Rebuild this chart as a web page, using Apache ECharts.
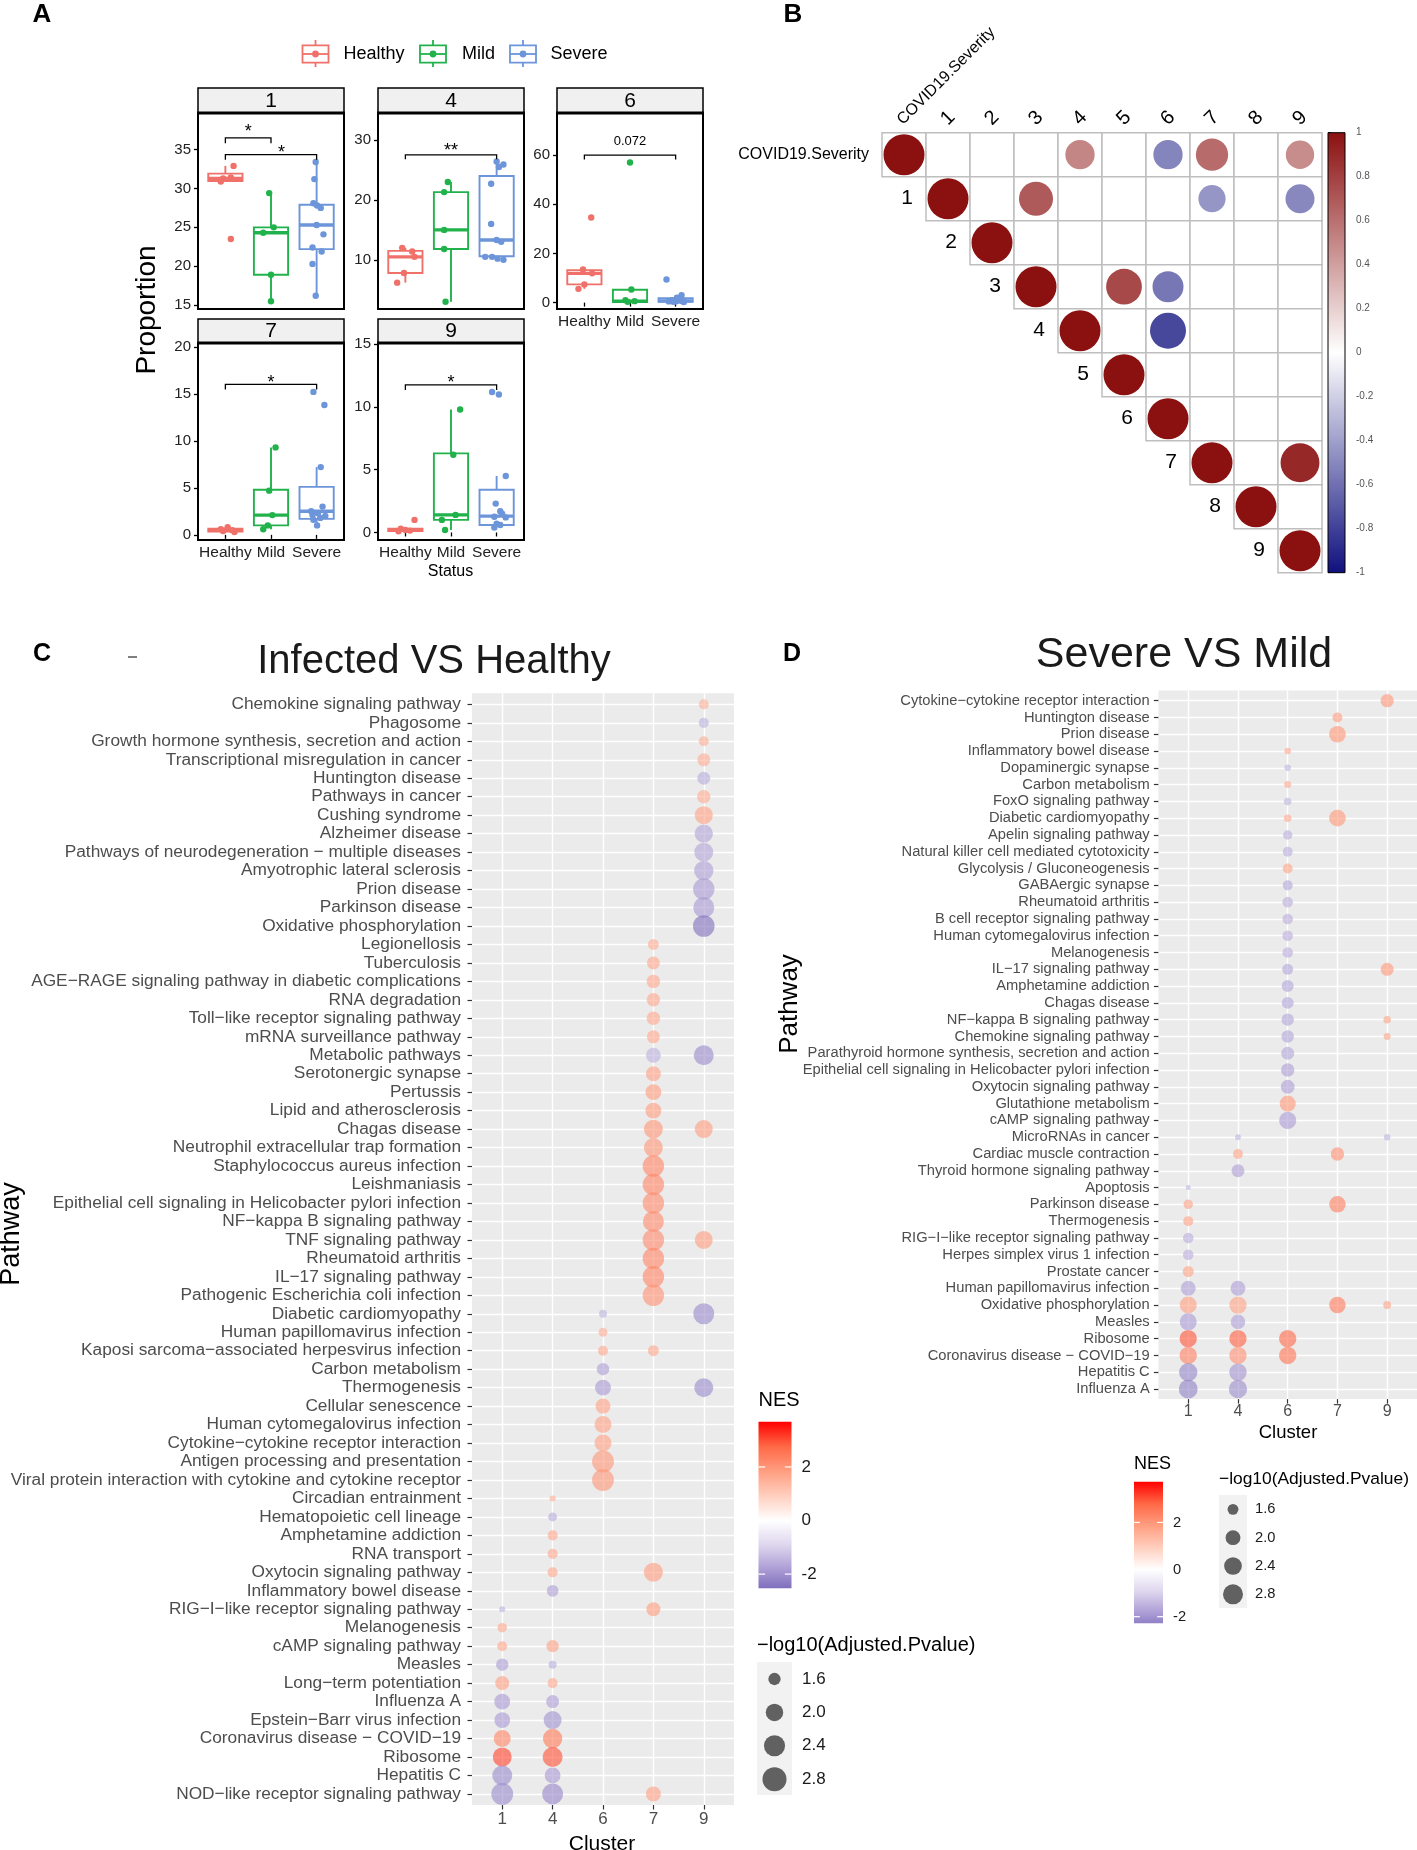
<!DOCTYPE html>
<html><head><meta charset="utf-8">
<script src="https://cdn.jsdelivr.net/npm/echarts@6/dist/echarts.min.js"></script>
<style>html,body{margin:0;padding:0;background:#fff}#c{width:1417px;height:1850px}</style>
</head><body><div id="c"></div>
<script>
const FONT = '"Liberation Sans", Arial, Helvetica, sans-serif';

// ---------------- Panel A data ----------------
const groups = ['Healthy', 'Mild', 'Severe'];
const facetNames = ['1', '4', '6', '7', '9'];
// box stats: [min, q1, median, q3, max] for Healthy, Mild, Severe
const box1 = [[30.9, 30.95, 31.3, 31.9, 32.9], [15.5, 18.9, 24.3, 25.0, 29.4], [16.2, 22.2, 25.3, 27.9, 33.4]];
const box4 = [[6.2, 7.8, 10.5, 11.5, 12.0], [3.0, 11.8, 15.0, 21.3, 23.0], [10.0, 10.6, 13.3, 24.0, 26.4]];
const box6 = [[5.6, 7.4, 11.9, 13.2, 13.5], [0.1, 0.2, 0.6, 5.2, 5.3], [0.1, 0.3, 0.7, 1.8, 3.0]];
const box7 = [[0.3, 0.35, 0.5, 0.65, 0.8], [0.6, 1.0, 2.1, 4.8, 9.3], [1.0, 1.7, 2.5, 5.1, 7.2]];
const box9 = [[0.1, 0.12, 0.2, 0.3, 0.35], [0.2, 1.0, 1.4, 6.3, 9.8], [0.4, 0.6, 1.3, 3.4, 4.5]];
// jittered points: [jitter offset, value]
const pts1 = [
  [[0.18, 32.9], [0.12, 31.4], [-0.05, 31.3], [-0.1, 30.9], [0.12, 23.5]],
  [[-0.04, 29.4], [0.06, 25.0], [-0.17, 24.3], [0, 18.9], [0, 15.5]],
  [[-0.02, 33.4], [-0.05, 31.2], [-0.07, 28.1], [0.01, 27.8], [0.09, 27.5], [0, 25.3], [0.15, 24.1], [-0.09, 22.4], [0.11, 21.9], [-0.09, 20.3], [-0.02, 16.2]]
];
const pts4 = [
  [[-0.07, 12.0], [0.15, 11.4], [0.2, 10.5], [-0.03, 7.8], [-0.18, 6.2]],
  [[-0.07, 23.0], [-0.15, 21.3], [-0.15, 15.0], [-0.15, 11.8], [-0.12, 3.0]],
  [[0, 26.4], [0.15, 25.9], [0.05, 25.5], [-0.12, 22.7], [-0.12, 16.0], [0, 13.3], [0.1, 13.0], [-0.25, 10.5], [-0.1, 10.5], [0.02, 10.2], [0.15, 10.0]]
];
const pts6 = [
  [[0.15, 34.6], [-0.03, 13.5], [0.17, 11.9], [0, 7.4], [-0.13, 5.6]],
  [[0, 57.0], [0.03, 5.3], [-0.1, 1.0], [0.1, 0.6], [-0.05, 0.3]],
  [[-0.2, 9.4], [0.13, 3.0], [0.03, 2.0], [0.1, 1.5], [-0.08, 1.0], [0.05, 0.8], [0.15, 0.6], [-0.15, 0.5], [0, 0.4], [-0.05, 0.3], [0.18, 0.2]]
];
const pts7 = [
  [[0.05, 0.8], [-0.1, 0.6], [0.15, 0.5], [-0.05, 0.4], [0.2, 0.3]],
  [[0.1, 9.3], [-0.04, 4.7], [0.03, 2.1], [-0.07, 1.0], [-0.17, 0.6]],
  [[-0.07, 15.2], [0.17, 13.8], [0.09, 7.2], [0.13, 3.0], [-0.12, 2.5], [0.03, 2.3], [-0.09, 2.1], [0.19, 2.0], [0.08, 1.8], [-0.07, 1.6], [0.01, 1.0]]
];
const pts9 = [
  [[0.2, 1.0], [-0.1, 0.3], [0, 0.2], [0.1, 0.15], [-0.15, 0.1]],
  [[0.2, 9.8], [0.05, 6.2], [0.1, 1.4], [-0.2, 1.0], [-0.13, 0.2]],
  [[-0.1, 11.2], [0.05, 11.0], [0.2, 4.5], [-0.02, 2.3], [0.08, 1.7], [0.12, 1.5], [-0.05, 1.25], [0.2, 1.2], [0.08, 0.6], [0, 0.7], [-0.05, 0.4]]
];
// significance brackets: [from, to, line value, tip value, label x, label y, label]
const br1 = [[1, 2, 36.5, 35.8, 1.5, 37.26, '*'], [1, 3, 34.36, 33.7, 2.23, 34.49, '*']];
const br4 = [[1, 3, 27.5, 26.8, 2, 28.2, '**']];
const br6 = [[1, 3, 60, 58.2, 2, 65.6, '0.072']];
const br7 = [[1, 3, 16.0, 15.46, 2, 16.17, '*']];
const br9 = [[1, 3, 11.76, 11.36, 2, 11.9, '*']];
const yTicks1 = [15, 20, 25, 30, 35];
const yTicks4 = [10, 20, 30];
const yTicks6 = [0, 20, 40, 60];
const yTicks7 = [0, 5, 10, 15, 20];
const yTicks9 = [0, 5, 10, 15];

// ---------------- Panel B data ----------------
const namesB = ['COVID19.Severity', '1', '2', '3', '4', '5', '6', '7', '8', '9'];
// [column, row, correlation]
const corrB = [
  [0, 0, 1], [4, 0, 0.51], [6, 0, -0.51], [7, 0, 0.62], [9, 0, 0.48],
  [1, 1, 1], [3, 1, 0.69], [7, 1, -0.44], [9, 1, -0.5],
  [2, 2, 1],
  [3, 3, 1], [5, 3, 0.76], [6, 3, -0.57],
  [4, 4, 1], [6, 4, -0.77],
  [5, 5, 1], [6, 6, 1],
  [7, 7, 1], [9, 7, 0.9],
  [8, 8, 1], [9, 9, 1]
];

// ---------------- Panel C data ----------------
const clustersC = ['1', '4', '6', '7', '9'];
const pathwaysC = [
  'Chemokine signaling pathway', 'Phagosome', 'Growth hormone synthesis, secretion and action',
  'Transcriptional misregulation in cancer', 'Huntington disease', 'Pathways in cancer', 'Cushing syndrome',
  'Alzheimer disease', 'Pathways of neurodegeneration − multiple diseases', 'Amyotrophic lateral sclerosis',
  'Prion disease', 'Parkinson disease', 'Oxidative phosphorylation', 'Legionellosis', 'Tuberculosis',
  'AGE−RAGE signaling pathway in diabetic complications', 'RNA degradation', 'Toll−like receptor signaling pathway',
  'mRNA surveillance pathway', 'Metabolic pathways', 'Serotonergic synapse', 'Pertussis', 'Lipid and atherosclerosis',
  'Chagas disease', 'Neutrophil extracellular trap formation', 'Staphylococcus aureus infection', 'Leishmaniasis',
  'Epithelial cell signaling in Helicobacter pylori infection', 'NF−kappa B signaling pathway', 'TNF signaling pathway',
  'Rheumatoid arthritis', 'IL−17 signaling pathway', 'Pathogenic Escherichia coli infection', 'Diabetic cardiomyopathy',
  'Human papillomavirus infection', 'Kaposi sarcoma−associated herpesvirus infection', 'Carbon metabolism',
  'Thermogenesis', 'Cellular senescence', 'Human cytomegalovirus infection', 'Cytokine−cytokine receptor interaction',
  'Antigen processing and presentation', 'Viral protein interaction with cytokine and cytokine receptor',
  'Circadian entrainment', 'Hematopoietic cell lineage', 'Amphetamine addiction', 'RNA transport',
  'Oxytocin signaling pathway', 'Inflammatory bowel disease', 'RIG−I−like receptor signaling pathway', 'Melanogenesis',
  'cAMP signaling pathway', 'Measles', 'Long−term potentiation', 'Influenza A', 'Epstein−Barr virus infection',
  'Coronavirus disease − COVID−19', 'Ribosome', 'Hepatitis C', 'NOD−like receptor signaling pathway'
];
// [pathway, cluster, NES, -log10(adjusted p)]
const dotsC = [
  ['Chemokine signaling pathway', '9', 1.5, 1.49], ['Phagosome', '9', -1.5, 1.49],
  ['Growth hormone synthesis, secretion and action', '9', 1.6, 1.49],
  ['Transcriptional misregulation in cancer', '9', 1.6, 1.64], ['Huntington disease', '9', -1.6, 1.64],
  ['Pathways in cancer', '9', 1.6, 1.67], ['Cushing syndrome', '9', 1.8, 2.05], ['Alzheimer disease', '9', -1.7, 2.08],
  ['Pathways of neurodegeneration − multiple diseases', '9', -1.7, 2.15], ['Amyotrophic lateral sclerosis', '9', -1.8, 2.2],
  ['Prion disease', '9', -1.9, 2.45], ['Parkinson disease', '9', -1.9, 2.39], ['Oxidative phosphorylation', '9', -2.53, 2.47],
  ['Legionellosis', '7', 1.6, 1.53], ['Tuberculosis', '7', 1.7, 1.64],
  ['AGE−RAGE signaling pathway in diabetic complications', '7', 1.7, 1.67], ['RNA degradation', '7', 1.7, 1.67],
  ['Toll−like receptor signaling pathway', '7', 1.7, 1.67], ['mRNA surveillance pathway', '7', 1.7, 1.64],
  ['Metabolic pathways', '7', -1.5, 1.78], ['Metabolic pathways', '9', -2.1, 2.27],
  ['Serotonergic synapse', '7', 1.8, 1.78], ['Pertussis', '7', 1.9, 1.85], ['Lipid and atherosclerosis', '7', 1.9, 1.85],
  ['Chagas disease', '7', 2.0, 2.15], ['Chagas disease', '9', 1.9, 2.05],
  ['Neutrophil extracellular trap formation', '7', 2.0, 2.15], ['Staphylococcus aureus infection', '7', 2.3, 2.45],
  ['Leishmaniasis', '7', 2.3, 2.45], ['Epithelial cell signaling in Helicobacter pylori infection', '7', 2.2, 2.45],
  ['NF−kappa B signaling pathway', '7', 2.2, 2.39], ['TNF signaling pathway', '7', 2.2, 2.45],
  ['TNF signaling pathway', '9', 1.9, 2.05], ['Rheumatoid arthritis', '7', 2.3, 2.45],
  ['IL−17 signaling pathway', '7', 2.3, 2.45], ['Pathogenic Escherichia coli infection', '7', 2.1, 2.45],
  ['Diabetic cardiomyopathy', '6', -1.5, 1.425], ['Diabetic cardiomyopathy', '9', -2.1, 2.39],
  ['Human papillomavirus infection', '6', 1.6, 1.45],
  ['Kaposi sarcoma−associated herpesvirus infection', '6', 1.7, 1.49],
  ['Kaposi sarcoma−associated herpesvirus infection', '7', 1.7, 1.53],
  ['Carbon metabolism', '6', -1.8, 1.61], ['Thermogenesis', '6', -1.9, 1.85], ['Thermogenesis', '9', -2.1, 2.15],
  ['Cellular senescence', '6', 1.8, 1.78], ['Human cytomegalovirus infection', '6', 1.8, 1.95],
  ['Cytokine−cytokine receptor interaction', '6', 1.8, 1.95], ['Antigen processing and presentation', '6', 2.0, 2.5],
  ['Viral protein interaction with cytokine and cytokine receptor', '6', 2.0, 2.5],
  ['Circadian entrainment', '4', 1.6, 1.395], ['Hematopoietic cell lineage', '4', -1.6, 1.45],
  ['Amphetamine addiction', '4', 1.7, 1.49], ['RNA transport', '4', 1.7, 1.49],
  ['Oxytocin signaling pathway', '4', 1.7, 1.49], ['Oxytocin signaling pathway', '7', 1.9, 2.15],
  ['Inflammatory bowel disease', '4', -1.8, 1.57],
  ['RIG−I−like receptor signaling pathway', '1', -1.5, 1.395], ['RIG−I−like receptor signaling pathway', '7', 1.9, 1.71],
  ['Melanogenesis', '1', 1.7, 1.47], ['cAMP signaling pathway', '1', 1.7, 1.49], ['cAMP signaling pathway', '4', 1.8, 1.6],
  ['Measles', '1', -1.8, 1.61], ['Measles', '4', -1.6, 1.425],
  ['Long−term potentiation', '1', 1.8, 1.71], ['Long−term potentiation', '4', 1.7, 1.49],
  ['Influenza A', '1', -1.9, 1.85], ['Influenza A', '4', -1.8, 1.64],
  ['Epstein−Barr virus infection', '1', -1.9, 1.85], ['Epstein−Barr virus infection', '4', -2.0, 2.05],
  ['Coronavirus disease − COVID−19', '1', 2.3, 1.95], ['Coronavirus disease − COVID−19', '4', 2.5, 2.2],
  ['Ribosome', '1', 3.1, 2.15], ['Ribosome', '4', 3.0, 2.27],
  ['Hepatitis C', '1', -2.1, 2.27], ['Hepatitis C', '4', -1.9, 1.85],
  ['NOD−like receptor signaling pathway', '1', -2.1, 2.5], ['NOD−like receptor signaling pathway', '4', -2.2, 2.39],
  ['NOD−like receptor signaling pathway', '7', 1.8, 1.78]
];

// ---------------- Panel D data ----------------
const clustersD = ['1', '4', '6', '7', '9'];
const pathwaysD = [
  'Cytokine−cytokine receptor interaction', 'Huntington disease', 'Prion disease', 'Inflammatory bowel disease',
  'Dopaminergic synapse', 'Carbon metabolism', 'FoxO signaling pathway', 'Diabetic cardiomyopathy',
  'Apelin signaling pathway', 'Natural killer cell mediated cytotoxicity', 'Glycolysis / Gluconeogenesis',
  'GABAergic synapse', 'Rheumatoid arthritis', 'B cell receptor signaling pathway', 'Human cytomegalovirus infection',
  'Melanogenesis', 'IL−17 signaling pathway', 'Amphetamine addiction', 'Chagas disease', 'NF−kappa B signaling pathway',
  'Chemokine signaling pathway', 'Parathyroid hormone synthesis, secretion and action',
  'Epithelial cell signaling in Helicobacter pylori infection', 'Oxytocin signaling pathway', 'Glutathione metabolism',
  'cAMP signaling pathway', 'MicroRNAs in cancer', 'Cardiac muscle contraction', 'Thyroid hormone signaling pathway',
  'Apoptosis', 'Parkinson disease', 'Thermogenesis', 'RIG−I−like receptor signaling pathway',
  'Herpes simplex virus 1 infection', 'Prostate cancer', 'Human papillomavirus infection', 'Oxidative phosphorylation',
  'Measles', 'Ribosome', 'Coronavirus disease − COVID−19', 'Hepatitis C', 'Influenza A'
];
const dotsD = [
  ['Cytokine−cytokine receptor interaction', '9', 2.0, 1.82], ['Huntington disease', '7', 1.9, 1.54],
  ['Prion disease', '7', 2.0, 2.25], ['Inflammatory bowel disease', '6', 1.7, 1.40],
  ['Dopaminergic synapse', '6', -1.5, 1.40], ['Carbon metabolism', '6', 1.7, 1.41],
  ['FoxO signaling pathway', '6', -1.5, 1.425], ['Diabetic cardiomyopathy', '6', 1.7, 1.425],
  ['Diabetic cardiomyopathy', '7', 2.0, 2.25], ['Apelin signaling pathway', '6', -1.6, 1.51],
  ['Natural killer cell mediated cytotoxicity', '6', -1.6, 1.54], ['Glycolysis / Gluconeogenesis', '6', 1.8, 1.54],
  ['GABAergic synapse', '6', -1.7, 1.54], ['Rheumatoid arthritis', '6', -1.6, 1.58],
  ['B cell receptor signaling pathway', '6', -1.6, 1.58], ['Human cytomegalovirus infection', '6', -1.6, 1.58],
  ['Melanogenesis', '6', -1.6, 1.58], ['IL−17 signaling pathway', '6', -1.7, 1.61],
  ['IL−17 signaling pathway', '9', 2.0, 1.79], ['Amphetamine addiction', '6', -1.7, 1.69],
  ['Chagas disease', '6', -1.7, 1.69], ['NF−kappa B signaling pathway', '6', -1.7, 1.74],
  ['NF−kappa B signaling pathway', '9', 1.8, 1.425], ['Chemokine signaling pathway', '6', -1.7, 1.74],
  ['Chemokine signaling pathway', '9', 1.8, 1.41], ['Parathyroid hormone synthesis, secretion and action', '6', -1.7, 1.79],
  ['Epithelial cell signaling in Helicobacter pylori infection', '6', -1.8, 1.83],
  ['Oxytocin signaling pathway', '6', -1.8, 1.89], ['Glutathione metabolism', '6', 2.0, 2.15],
  ['cAMP signaling pathway', '6', -1.9, 2.3], ['MicroRNAs in cancer', '4', -1.5, 1.39],
  ['MicroRNAs in cancer', '9', -1.5, 1.40], ['Cardiac muscle contraction', '4', 1.8, 1.54],
  ['Cardiac muscle contraction', '7', 2.1, 1.83], ['Thyroid hormone signaling pathway', '4', -1.8, 1.79],
  ['Apoptosis', '1', -1.5, 1.385], ['Parkinson disease', '1', 1.8, 1.51], ['Parkinson disease', '7', 2.4, 2.22],
  ['Thermogenesis', '1', 1.8, 1.54], ['RIG−I−like receptor signaling pathway', '1', -1.6, 1.58],
  ['Herpes simplex virus 1 infection', '1', -1.6, 1.58], ['Prostate cancer', '1', 1.8, 1.61],
  ['Human papillomavirus infection', '1', -1.8, 2.01], ['Human papillomavirus infection', '4', -1.8, 2.01],
  ['Oxidative phosphorylation', '1', 1.9, 2.29], ['Oxidative phosphorylation', '4', 1.8, 2.35],
  ['Oxidative phosphorylation', '7', 2.5, 2.22], ['Oxidative phosphorylation', '9', 1.8, 1.44],
  ['Measles', '1', -1.9, 2.29], ['Measles', '4', -1.8, 1.96],
  ['Ribosome', '1', 3.0, 2.35], ['Ribosome', '4', 2.9, 2.35], ['Ribosome', '6', 2.8, 2.35],
  ['Coronavirus disease − COVID−19', '1', 2.4, 2.35], ['Coronavirus disease − COVID−19', '4', 2.1, 2.35],
  ['Coronavirus disease − COVID−19', '6', 2.6, 2.35],
  ['Hepatitis C', '1', -2.2, 2.5], ['Hepatitis C', '4', -2.0, 2.35],
  ['Influenza A', '1', -2.28, 2.6], ['Influenza A', '4', -2.1, 2.5]
];

// ---------------- styles / layout ----------------
const groupColors = ['#F0716A', '#22B24C', '#6D95D9'];
const nesColors = ['#321E91', '#705FB4', '#AA9BD4', '#DED6EE', '#FFFFFF', '#FFCFBF', '#FF9E81', '#FF6846', '#FF0000'];
const corrColors = ['#10107E', '#FFFFFF', '#8B1010'];
const sizeC = v => 5 + 19 * Math.sqrt(Math.max(0, (v - 1.39) / 1.41));
const sizeD = v => 5 + 15 * Math.sqrt(Math.max(0, (v - 1.385) / 1.415));

const aLayout = [
  { left: 198, top: 113, h: 196, box: box1, pts: pts1, br: br1, yr: [14.5, 39.7], ticks: yTicks1, showX: false },
  { left: 378, top: 113, h: 196, box: box4, pts: pts4, br: br4, yr: [1.8, 34.5], ticks: yTicks4, showX: false },
  { left: 557, top: 113, h: 196, box: box6, pts: pts6, br: br6, yr: [-2.6, 77.1], ticks: yTicks6, showX: true },
  { left: 198, top: 343, h: 197, box: box7, pts: pts7, br: br7, yr: [-0.55, 20.4], ticks: yTicks7, showX: true },
  { left: 378, top: 343, h: 197, box: box9, pts: pts9, br: br9, yr: [-0.6, 15.1], ticks: yTicks9, showX: true }
];
const aW = 146;

const grids = [], xAxes = [], yAxes = [], series = [], visualMaps = [], gfx = [];

function txt(x, y, s, size, opts) {
  opts = opts || {};
  return Object.assign({
    type: 'text', x: x, y: y, z: 50,
    style: { text: s, fontSize: size, fontFamily: FONT, fill: opts.fill || '#000', fontWeight: opts.weight || 'normal',
      align: opts.align || 'center', verticalAlign: 'middle' }
  }, opts.rotation ? { rotation: opts.rotation } : {});
}

// ---------- Panel A ----------
aLayout.forEach((p, i) => {
  grids.push({ left: p.left, top: p.top, width: aW, height: p.h, show: true, borderColor: '#000', borderWidth: 2,
    backgroundColor: '#fff', outerBoundsMode: 'none' });
  xAxes.push({ gridIndex: i, type: 'value', min: 0.4, max: 3.6, axisLine: { show: false }, splitLine: { show: false },
    axisTick: { show: p.showX, customValues: [1, 2, 3], length: 4, lineStyle: { color: '#000', width: 1.3 } },
    axisLabel: { show: p.showX, customValues: [1, 2, 3], formatter: v => groups[Math.round(v) - 1], fontSize: 15.5,
      color: '#222', margin: 5, fontFamily: FONT } });
  yAxes.push({ gridIndex: i, type: 'value', min: p.yr[0], max: p.yr[1], axisLine: { show: false }, splitLine: { show: false },
    axisTick: { show: true, customValues: p.ticks, length: 4, lineStyle: { color: '#000', width: 1.3 } },
    axisLabel: { customValues: p.ticks, fontSize: 15, color: '#222', margin: 7, fontFamily: FONT } });
  series.push({
    type: 'custom', xAxisIndex: i, yAxisIndex: i, z: 2,
    data: p.box.map((b, g) => [g, b[0], b[1], b[2], b[3], b[4]]),
    renderItem: (params, api) => {
      const g = api.value(0), x = g + 1, col = groupColors[g];
      const pMin = api.coord([x, api.value(1)]), pQ1 = api.coord([x, api.value(2)]), pMed = api.coord([x, api.value(3)]);
      const pQ3 = api.coord([x, api.value(4)]), pMax = api.coord([x, api.value(5)]);
      const xl = api.coord([x - 0.375, api.value(3)])[0], xr = api.coord([x + 0.375, api.value(3)])[0];
      return { type: 'group', children: [
        { type: 'line', shape: { x1: pMax[0], y1: pMax[1], x2: pQ3[0], y2: pQ3[1] }, style: { stroke: col, lineWidth: 1.9 } },
        { type: 'line', shape: { x1: pQ1[0], y1: pQ1[1], x2: pMin[0], y2: pMin[1] }, style: { stroke: col, lineWidth: 1.9 } },
        { type: 'rect', shape: { x: xl, y: pQ3[1], width: xr - xl, height: pQ1[1] - pQ3[1] }, style: { fill: '#fff', stroke: col, lineWidth: 1.9 } },
        { type: 'line', shape: { x1: xl, y1: pMed[1], x2: xr, y2: pMed[1] }, style: { stroke: col, lineWidth: 3.4 } }
      ] };
    }
  });
  p.pts.forEach((arr, g) => {
    series.push({ type: 'scatter', xAxisIndex: i, yAxisIndex: i, z: 3, symbolSize: 6.4,
      itemStyle: { color: groupColors[g], opacity: 1 },
      data: arr.map(d => [g + 1 + d[0], d[1]]) });
  });
  const brs = p.br;
  series.push({
    type: 'custom', xAxisIndex: i, yAxisIndex: i, z: 4,
    data: brs.map(b => b.slice(0, 6)),
    renderItem: (params, api) => {
      const b = brs[params.dataIndex];
      const p1 = api.coord([b[0], b[3]]), p2 = api.coord([b[0], b[2]]), p3 = api.coord([b[1], b[2]]), p4 = api.coord([b[1], b[3]]);
      const pl = api.coord([b[4], b[5]]);
      return { type: 'group', children: [
        { type: 'polyline', shape: { points: [p1, p2, p3, p4] }, style: { stroke: '#000', lineWidth: 1.3, fill: null } },
        { type: 'text', x: pl[0], y: pl[1], style: { text: b[6], fontSize: b[6] === '0.072' ? 13 : 18, fontFamily: FONT,
          fill: '#000', align: 'center', verticalAlign: 'middle' } }
      ] };
    }
  });
  const sTop = i < 3 ? 88 : 319;
  gfx.push({ type: 'rect', z: 40, shape: { x: p.left, y: sTop, width: aW, height: p.top - sTop },
    style: { fill: '#F0F0F0', stroke: '#000', lineWidth: 1.5 } });
  gfx.push({ type: 'line', z: 41, shape: { x1: p.left - 1, y1: p.top, x2: p.left + aW + 1, y2: p.top }, style: { stroke: '#000', lineWidth: 3 } });
  gfx.push(txt(p.left + aW / 2, (sTop + p.top) / 2 + 0.5, facetNames[i], 21));
});

[[315.5, 343.5], [433, 462], [523, 550.5]].forEach((pos, g) => {
  const cx = pos[0], col = groupColors[g];
  gfx.push({ type: 'line', z: 40, shape: { x1: cx, y1: 40, x2: cx, y2: 67 }, style: { stroke: col, lineWidth: 1.8 } });
  gfx.push({ type: 'rect', z: 41, shape: { x: cx - 13, y: 45.3, width: 26, height: 17.4 }, style: { fill: '#fff', stroke: col, lineWidth: 1.8 } });
  gfx.push({ type: 'line', z: 42, shape: { x1: cx - 13, y1: 54, x2: cx + 13, y2: 54 }, style: { stroke: col, lineWidth: 1.8 } });
  gfx.push({ type: 'circle', z: 43, shape: { cx: cx, cy: 54, r: 3.4 }, style: { fill: col } });
  gfx.push(txt(pos[1], 54, groups[g], 18, { align: 'left' }));
});
gfx.push(txt(42, 15, 'A', 26, { weight: 'bold' }));
gfx.push(txt(147, 310, 'Proportion', 28, { rotation: Math.PI / 2 }));
gfx.push(txt(450.5, 572, 'Status', 16));

// ---------- Panel B ----------
const gB = grids.length;
grids.push({ left: 882, top: 132.7, width: 440, height: 440, show: false, outerBoundsMode: 'none' });
xAxes.push({ gridIndex: gB, type: 'category', data: namesB, position: 'top', axisLine: { show: false },
  axisTick: { show: false }, splitLine: { show: false }, axisLabel: { show: false } });
yAxes.push({ gridIndex: gB, type: 'category', data: namesB, inverse: true, show: false });
const cellsB = [];
namesB.forEach((n, r) => { namesB.forEach((m, c) => { if (c >= r) cellsB.push([c, r]); }); });
series.push({
  type: 'custom', xAxisIndex: gB, yAxisIndex: gB, z: 2, data: cellsB,
  renderItem: (params, api) => {
    const c = api.coord([api.value(0), api.value(1)]), s = api.size([1, 1]);
    return { type: 'rect', shape: { x: c[0] - s[0] / 2, y: c[1] - s[1] / 2, width: s[0], height: s[1] },
      style: { fill: '#fff', stroke: '#BEBEBE', lineWidth: 1.5 } };
  }
});
const sB = series.length;
series.push({ type: 'scatter', xAxisIndex: gB, yAxisIndex: gB, z: 3, data: corrB,
  symbolSize: d => 41 * Math.sqrt(Math.abs(d[2])), itemStyle: { opacity: 1 } });
visualMaps.push({ type: 'continuous', show: false, min: -1, max: 1, dimension: 2, seriesIndex: sB, inRange: { color: corrColors } });
// row labels beside the diagonal
series.push({
  type: 'custom', xAxisIndex: gB, yAxisIndex: gB, z: 4, data: namesB.map((n, i) => [i, i]),
  renderItem: (params, api) => {
    const i = params.dataIndex, c = api.coord([i, i]), s = api.size([1, 1]);
    return { type: 'text', x: c[0] - s[0] / 2 - 13, y: c[1],
      style: { text: namesB[i], fontSize: i === 0 ? 16 : 21, fontFamily: FONT, fill: '#000', align: 'right', verticalAlign: 'middle' } };
  }
});
// column labels on top, rotated 45 degrees
series.push({
  type: 'custom', xAxisIndex: gB, yAxisIndex: gB, z: 4, data: namesB.map((n, i) => [i, 0]),
  renderItem: (params, api) => {
    const i = params.dataIndex, c = api.coord([i, 0]), s = api.size([1, 1]);
    return { type: 'text', x: c[0] - 4, y: c[1] - s[1] / 2 - 10.5, rotation: Math.PI / 4,
      style: { text: namesB[i], fontSize: i === 0 ? 16 : 20, fontFamily: FONT, fill: '#000', align: 'left', verticalAlign: 'middle' } };
  }
});
const gBar = grids.length;
grids.push({ left: 1328, top: 132.7, width: 17, height: 440, show: false, outerBoundsMode: 'none' });
xAxes.push({ gridIndex: gBar, type: 'value', show: false, min: 0, max: 1 });
yAxes.push({ gridIndex: gBar, type: 'value', min: -1, max: 1, interval: 0.2, position: 'right',
  axisLine: { show: false }, splitLine: { show: false },
  axisTick: { show: true, length: 3, lineStyle: { color: '#000', width: 1 } },
  axisLabel: { fontSize: 10, color: '#555', margin: 11, fontFamily: FONT,
    formatter: v => String(Math.round(v * 10) / 10) } });
gfx.push({ type: 'rect', z: 10, shape: { x: 1328, y: 132.7, width: 17, height: 440 },
  style: { stroke: '#000', lineWidth: 1, fill: { type: 'linear', x: 0, y: 0, x2: 0, y2: 1,
    colorStops: [{ offset: 0, color: corrColors[2] }, { offset: 0.5, color: corrColors[1] }, { offset: 1, color: corrColors[0] }] } } });
gfx.push(txt(793, 15, 'B', 26, { weight: 'bold' }));

// ---------- dot plots C & D ----------
function dotPanel(cfg) {
  const gi = grids.length;
  const ticksX = cfg.clusters.map((c, i) => i + 1);
  const ticksY = cfg.pathways.map((c, i) => i + 1);
  grids.push({ left: cfg.left, top: cfg.top, width: cfg.width, height: cfg.height, show: true, borderWidth: 0,
    backgroundColor: '#EBEBEB', outerBoundsMode: 'none' });
  xAxes.push({ gridIndex: gi, type: 'value', min: 0.4, max: cfg.clusters.length + 0.6, axisLine: { show: false },
    axisTick: { customValues: ticksX, length: 4.5, lineStyle: { color: '#333', width: 1.2 } },
    axisLabel: { customValues: ticksX, formatter: v => cfg.clusters[Math.round(v) - 1], fontSize: cfg.xFont, color: '#4D4D4D',
      margin: cfg.xMargin, fontFamily: FONT },
    splitLine: { show: true, lineStyle: { color: '#fff', width: 1.4 } } });
  yAxes.push({ gridIndex: gi, type: 'value', inverse: true, min: 0.4, max: cfg.pathways.length + 0.6, axisLine: { show: false },
    axisTick: { customValues: ticksY, length: 4.5, lineStyle: { color: '#333', width: 1.2 } },
    axisLabel: { customValues: ticksY, formatter: v => cfg.pathways[Math.round(v) - 1], fontSize: cfg.yFont, color: '#4D4D4D',
      margin: cfg.yMargin, fontFamily: FONT },
    splitLine: { show: true, lineStyle: { color: '#fff', width: 1.4 } } });
  const si = series.length;
  series.push({ type: 'scatter', xAxisIndex: gi, yAxisIndex: gi, z: 3,
    data: cfg.dots.map(d => [cfg.clusters.indexOf(d[1]) + 1, cfg.pathways.indexOf(d[0]) + 1, d[2], d[3]]),
    symbolSize: d => cfg.size(d[3]), itemStyle: { opacity: 0.6 } });
  visualMaps.push({ type: 'continuous', show: false, min: -cfg.M, max: cfg.M, dimension: 2, seriesIndex: si,
    inRange: { color: nesColors } });
}
dotPanel({ left: 472, top: 693.3, width: 262, height: 1111.7, clusters: clustersC, pathways: pathwaysC, dots: dotsC,
  size: sizeC, M: 3.69, xFont: 17, yFont: 17.3, xMargin: 6, yMargin: 11 });
dotPanel({ left: 1158.4, top: 690.6, width: 258.6, height: 708.5, clusters: clustersD, pathways: pathwaysD, dots: dotsD,
  size: sizeD, M: 3.73, xFont: 16, yFont: 14.7, xMargin: 4.5, yMargin: 8.7 });

function nesColorAt(v, M) {
  const t = Math.max(0, Math.min(1, (v + M) / (2 * M))) * (nesColors.length - 1);
  const i = Math.min(nesColors.length - 2, Math.floor(t)), f = t - i;
  const a = echarts.color.parse(nesColors[i]), b = echarts.color.parse(nesColors[i + 1]);
  return 'rgb(' + [0, 1, 2].map(k => Math.round(a[k] + (b[k] - a[k]) * f)).join(',') + ')';
}
function nesLegend(L) {
  const stops = [{ offset: 0, color: nesColorAt(L.vTop, L.M) }];
  for (let k = 0; k < nesColors.length; k++) {
    const v = -L.M + k * 2 * L.M / (nesColors.length - 1);
    if (v < L.vTop && v > L.vBot) stops.push({ offset: (L.vTop - v) / (L.vTop - L.vBot), color: nesColors[k] });
  }
  stops.push({ offset: 1, color: nesColorAt(L.vBot, L.M) });
  gfx.push(txt(L.x, L.titleY, 'NES', L.titleSize, { align: 'left' }));
  gfx.push({ type: 'rect', z: 10, shape: { x: L.x, y: L.y, width: L.w, height: L.h },
    style: { fill: { type: 'linear', x: 0, y: 0, x2: 0, y2: 1, colorStops: stops } } });
  [2, 0, -2].forEach(v => {
    const y = L.y + (L.vTop - v) / (L.vTop - L.vBot) * L.h;
    gfx.push({ type: 'line', z: 11, shape: { x1: L.x, y1: y, x2: L.x + L.w * 0.2, y2: y }, style: { stroke: '#fff', lineWidth: 1.2 } });
    gfx.push({ type: 'line', z: 11, shape: { x1: L.x + L.w * 0.8, y1: y, x2: L.x + L.w, y2: y }, style: { stroke: '#fff', lineWidth: 1.2 } });
    gfx.push(txt(L.labelX, y, String(v), L.labelSize, { align: 'left', fill: '#1a1a1a' }));
  });
}
function sizeLegend(L) {
  gfx.push(txt(L.x, L.titleY, '−log10(Adjusted.Pvalue)', L.titleSize, { align: 'left' }));
  gfx.push({ type: 'rect', z: 10, shape: { x: L.x, y: L.bgTop, width: L.bgW, height: L.bgH }, style: { fill: '#F2F2F2' } });
  [1.6, 2.0, 2.4, 2.8].forEach((v, k) => {
    const y = L.key0 + k * L.step;
    gfx.push({ type: 'circle', z: 11, shape: { cx: L.x + L.bgW / 2, cy: y, r: L.size(v) / 2 }, style: { fill: '#000', opacity: 0.6 } });
    gfx.push(txt(L.labelX, y, v.toFixed(1), L.labelSize, { align: 'left', fill: '#1a1a1a' }));
  });
}
nesLegend({ x: 758.5, y: 1421.7, w: 33, h: 166.6, vTop: 3.69, vBot: -2.53, M: 3.69, titleY: 1400, titleSize: 20,
  labelX: 801.5, labelSize: 17 });
sizeLegend({ x: 757, titleY: 1645, titleSize: 20, bgTop: 1662, bgW: 35, bgH: 133, key0: 1679, step: 33.4, size: sizeC,
  labelX: 802, labelSize: 17 });
nesLegend({ x: 1134, y: 1481.7, w: 29, h: 141.6, vTop: 3.73, vBot: -2.28, M: 3.73, titleY: 1464, titleSize: 18,
  labelX: 1173, labelSize: 14.7 });
sizeLegend({ x: 1219, titleY: 1479, titleSize: 17.4, bgTop: 1495, bgW: 28, bgH: 113, key0: 1509.3, step: 28.35, size: sizeD,
  labelX: 1255, labelSize: 14.7 });

gfx.push(txt(42, 654, 'C', 25, { weight: 'bold' }));
gfx.push({ type: 'line', z: 40, shape: { x1: 128, y1: 657, x2: 137, y2: 657 }, style: { stroke: '#555', lineWidth: 1.5 } });
gfx.push(txt(434, 661.5, 'Infected VS Healthy', 40, { fill: '#1a1a1a' }));
gfx.push(txt(12, 1234, 'Pathway', 27, { rotation: Math.PI / 2 }));
gfx.push(txt(602, 1844, 'Cluster', 21));
gfx.push(txt(792, 654, 'D', 25, { weight: 'bold' }));
gfx.push(txt(1184, 655, 'Severe VS Mild', 43, { fill: '#1a1a1a' }));
gfx.push(txt(790, 1004, 'Pathway', 26, { rotation: Math.PI / 2 }));
gfx.push(txt(1288, 1432.5, 'Cluster', 18.5));

const chart = echarts.init(document.getElementById('c'), null, { renderer: 'canvas', width: 1417, height: 1850 });
chart.setOption({
  animation: false,
  backgroundColor: '#fff',
  textStyle: { fontFamily: FONT },
  grid: grids, xAxis: xAxes, yAxis: yAxes, series: series, visualMap: visualMaps,
  graphic: { elements: gfx }
});
</script>
</body></html>
